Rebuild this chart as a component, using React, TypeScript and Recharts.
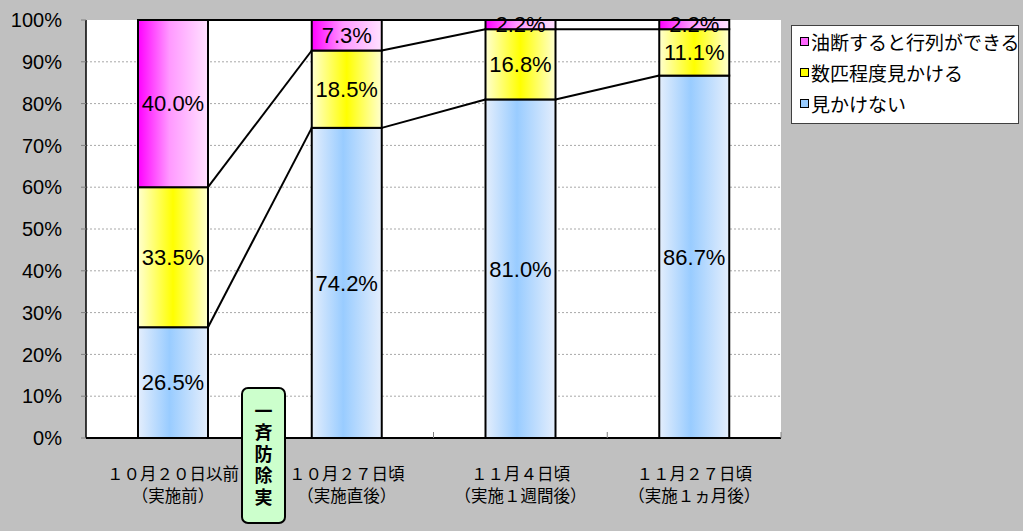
import React from "react";
import {
  BarChart,
  Bar,
  XAxis,
  YAxis,
  CartesianGrid,
  LabelList,
  Legend,
} from "recharts";

const categories = ["１０月２０日以前", "１０月２７日頃", "１１月４日頃", "１１月２７日頃"];
const subLabels = ["（実施前）", "（実施直後）", "（実施１週間後）", "（実施１ヵ月後）"];

const notSeen = [26.5, 74.2, 81.0, 86.7];
const someSeen = [33.5, 18.5, 16.8, 11.1];
const manySeen = [40.0, 7.3, 2.2, 2.2];

const seriesNames = ["見かけない", "数匹程度見かける", "油断すると行列ができる"];
const yTicks = [0, 10, 20, 30, 40, 50, 60, 70, 80, 90, 100];
const gridValues = [10, 20, 30, 40, 50, 60, 70, 80, 90];
const noteText = "一斉防除実";

const W = 1023;
const H = 531;
const MARGIN = { top: 20, right: 242, bottom: 33, left: 0 };
const Y_AXIS_W = 86;
const X_AXIS_H = 60;
const PLOT_W = W - MARGIN.right - MARGIN.left - Y_AXIS_W;
const BAND = PLOT_W / categories.length;

const JP = '"Noto Sans CJK JP", sans-serif';
const NUM = '"Liberation Sans", Arial, sans-serif';

const data = categories.map((c, i) => ({
  name: c,
  sub: subLabels[i],
  none: notSeen[i],
  some: someSeen[i],
  many: manySeen[i],
}));

const series = [notSeen, someSeen, manySeen];
// cumulative tops of each stacked segment
const cum = series.map((_, s) =>
  categories.map((__, i) => series.slice(0, s + 1).reduce((a, arr) => a + arr[i], 0))
);

const fills = [
  { id: "gBlue", stops: [["0%", "#e4eefc"], ["45%", "#99ccff"], ["100%", "#e4eefc"]] },
  { id: "gYellow", stops: [["0%", "#ffffd0"], ["50%", "#ffff00"], ["100%", "#ffffd0"]] },
  { id: "gPink", stops: [["0%", "#ff00ff"], ["45%", "#ff99ff"], ["100%", "#ffe2ff"]] },
];
const legendColors = ["#99ccff", "#ffff00", "#ff66ff"];

// bar segment + Excel-style series line to the next bar
function makeShape(s: number) {
  return (props: any) => {
    const { x, y, width, height, index } = props;
    const lower = s === 0 ? 0 : cum[s - 1][index];
    const upper = cum[s][index];
    const ppu = height / (upper - lower);
    let link = null;
    if (index + 1 < categories.length) {
      const ny = y + (upper - cum[s][index + 1]) * ppu;
      link = (
        <line x1={x + width} y1={y} x2={x + BAND} y2={ny} stroke="#000" strokeWidth={2} />
      );
    }
    return (
      <g>
        <rect
          x={x}
          y={y}
          width={width}
          height={height}
          fill={`url(#${fills[s].id})`}
          stroke="#000"
          strokeWidth={2}
        />
        {link}
      </g>
    );
  };
}

function XTick(props: any) {
  const { x, y, payload } = props;
  const i = payload.index;
  return (
    <g>
      <line x1={x + BAND / 2} y1={y} x2={x + BAND / 2} y2={y - 6} stroke="#808080" strokeWidth={1} />
      <text x={x} y={y + 35} textAnchor="middle" dominantBaseline="central" fontFamily={JP} fontSize={16.5} fill="#000">
        {categories[i]}
      </text>
      <text x={x} y={y + 57} textAnchor="middle" dominantBaseline="central" fontFamily={JP} fontSize={16.5} fill="#000">
        {subLabels[i]}
      </text>
    </g>
  );
}

function LegendBox() {
  const order = [2, 1, 0];
  return (
    <div
      style={{
        width: 228,
        height: 99,
        boxSizing: "border-box",
        background: "#fff",
        border: "1px solid #404040",
        fontFamily: JP,
        fontSize: 19,
        color: "#000",
      }}
    >
      {order.map((s) => (
        <div key={s} style={{ display: "flex", alignItems: "center", height: 31, paddingLeft: 8 }}>
          <span
            style={{
              display: "inline-block",
              flexShrink: 0,
              width: 7,
              height: 7,
              border: "1px solid #000",
              background: legendColors[s],
              marginRight: 2,
            }}
          />
          <span style={{ whiteSpace: "nowrap" }}>{seriesNames[s]}</span>
        </div>
      ))}
    </div>
  );
}

const fmt = (v: any) => `${Number(v).toFixed(1)}%`;
const labelStyle = { fontSize: 22, fontFamily: NUM, fill: "#000" };

export default function App() {
  return (
    <div style={{ position: "absolute", left: 0, top: 0, width: W, height: H, background: "#c0c0c0" }}>
      <BarChart width={W} height={H} data={data} margin={MARGIN} barSize={70}>
        <defs>
          {fills.map((f) => (
            <linearGradient key={f.id} id={f.id} x1="0" y1="0" x2="1" y2="0">
              {f.stops.map(([o, c]) => (
                <stop key={o} offset={o} stopColor={c} />
              ))}
            </linearGradient>
          ))}
        </defs>
        <CartesianGrid
          vertical={false}
          fill="#fff"
          stroke="#a8a8a8"
          strokeDasharray="2 2"
          horizontalValues={gridValues}
        />
        <XAxis
          dataKey="name"
          height={X_AXIS_H}
          tick={<XTick />}
          tickLine={false}
          tickSize={0}
          tickMargin={0}
          interval={0}
          axisLine={{ stroke: "#000", strokeWidth: 2 }}
        />
        <YAxis
          width={Y_AXIS_W}
          domain={[0, 100]}
          ticks={yTicks}
          interval={0}
          tickFormatter={(v) => `${v}%`}
          tick={{ fontSize: 20, fontFamily: NUM, fill: "#000" }}
          tickSize={5}
          tickMargin={19}
          tickLine={{ stroke: "#808080" }}
          axisLine={{ stroke: "#000", strokeWidth: 1.5 }}
        />
        <Legend
          layout="horizontal"
          align="center"
          verticalAlign="middle"
          wrapperStyle={{ left: 791, top: 25, width: 228, height: 99 }}
          content={() => <LegendBox />}
        />
        <Bar dataKey="none" stackId="a" name={seriesNames[0]} shape={makeShape(0)} isAnimationActive={false}>
          <LabelList dataKey="none" position="center" formatter={fmt} style={labelStyle} />
        </Bar>
        <Bar dataKey="some" stackId="a" name={seriesNames[1]} shape={makeShape(1)} isAnimationActive={false}>
          <LabelList dataKey="some" position="center" formatter={fmt} style={labelStyle} />
        </Bar>
        <Bar dataKey="many" stackId="a" name={seriesNames[2]} shape={makeShape(2)} isAnimationActive={false}>
          <LabelList dataKey="many" position="center" formatter={fmt} style={labelStyle} />
        </Bar>
      </BarChart>
      <div
        style={{
          position: "absolute",
          left: 241,
          top: 387,
          width: 45,
          height: 137,
          boxSizing: "border-box",
          border: "2px solid #000",
          borderRadius: 7,
          background: "#ccffcc",
          display: "flex",
          justifyContent: "center",
          paddingTop: 13,
        }}
      >
        <span
          style={{
            writingMode: "vertical-rl",
            textOrientation: "upright",
            fontFamily: JP,
            fontWeight: 700,
            fontSize: 18,
            letterSpacing: 3.5,
            lineHeight: 1,
            color: "#000",
          }}
        >
          {noteText}
        </span>
      </div>
    </div>
  );
}
